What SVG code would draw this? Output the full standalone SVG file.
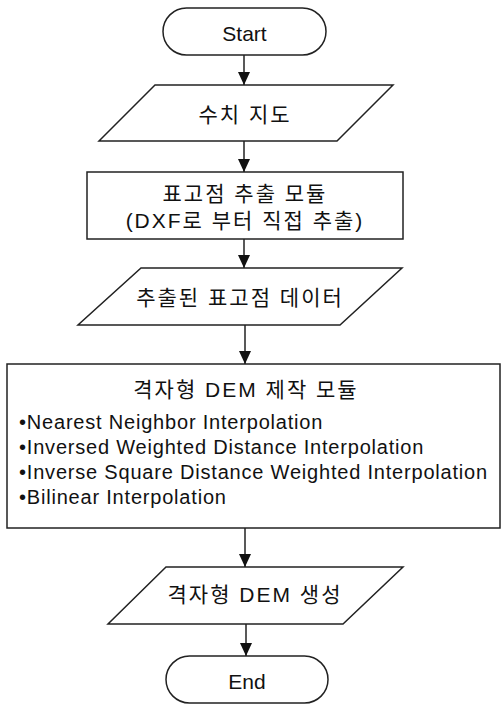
<svg xmlns="http://www.w3.org/2000/svg" width="501" height="705" viewBox="0 0 501 705">
<style>
.s{fill:#fff;stroke:#222;stroke-width:1.5}
.t{font-family:"Liberation Sans","Noto Sans CJK KR",Arial,sans-serif;fill:#111;font-size:20px}
.k{font-size:21px;letter-spacing:2px}
.b{letter-spacing:0.8px}
.c{text-anchor:middle}
.l{stroke:#222;stroke-width:1.5;fill:none}
</style>
<defs>
<marker id="ah" viewBox="0 0 13 12" refX="13" refY="6" markerWidth="13" markerHeight="12" markerUnits="userSpaceOnUse" orient="auto">
<path d="M0,0 L13,6 L0,12 Z" fill="#111"/>
</marker>
</defs>
<rect width="501" height="705" fill="#fff"/>
<g id="start">
<rect class="s" x="163" y="8" width="163" height="47" rx="23.5"/>
<text class="t c" x="244.5" y="41" style="font-size:21px">Start</text>
</g>
<g id="map">
<polygon class="s" points="155,85 393,85 337,141 99,141"/>
<text class="t c k" x="245" y="122">수치 지도</text>
</g>
<g id="extract">
<rect class="s" x="87" y="172" width="316" height="67"/>
<text class="t c k" x="245" y="201">표고점 추출 모듈</text>
<text class="t c k" x="245" y="228">(DXF로 부터 직접 추출)</text>
</g>
<g id="points">
<polygon class="s" points="141,268 402,268 340,325 78,325"/>
<text class="t c k" x="240" y="305">추출된 표고점 데이터</text>
</g>
<g id="dem">
<rect class="s" x="7" y="364" width="493" height="164"/>
<text class="t c k" x="246" y="397">격자형 DEM 제작 모듈</text>
<text class="t b" x="19" y="429">•Nearest Neighbor Interpolation</text>
<text class="t b" x="19" y="454">•Inversed Weighted Distance Interpolation</text>
<text class="t b" x="19" y="479">•Inverse Square Distance Weighted Interpolation</text>
<text class="t b" x="19" y="504">•Bilinear Interpolation</text>
</g>
<g id="gen">
<polygon class="s" points="166,567 403,567 343,624 108,624"/>
<text class="t c k" x="255" y="602">격자형 DEM 생성</text>
</g>
<g id="end">
<rect class="s" x="166" y="656" width="162" height="47" rx="23.5"/>
<text class="t c" x="247" y="689" style="font-size:21px">End</text>
</g>
<g id="connectors">
<line class="l" x1="244" y1="55" x2="244" y2="85" marker-end="url(#ah)"/>
<line class="l" x1="244" y1="141" x2="244" y2="172" marker-end="url(#ah)"/>
<line class="l" x1="244" y1="239" x2="244" y2="268" marker-end="url(#ah)"/>
<line class="l" x1="245" y1="325" x2="245" y2="364" marker-end="url(#ah)"/>
<line class="l" x1="245" y1="528" x2="245" y2="567" marker-end="url(#ah)"/>
<line class="l" x1="246" y1="624" x2="246" y2="656" marker-end="url(#ah)"/>
</g>
</svg>
